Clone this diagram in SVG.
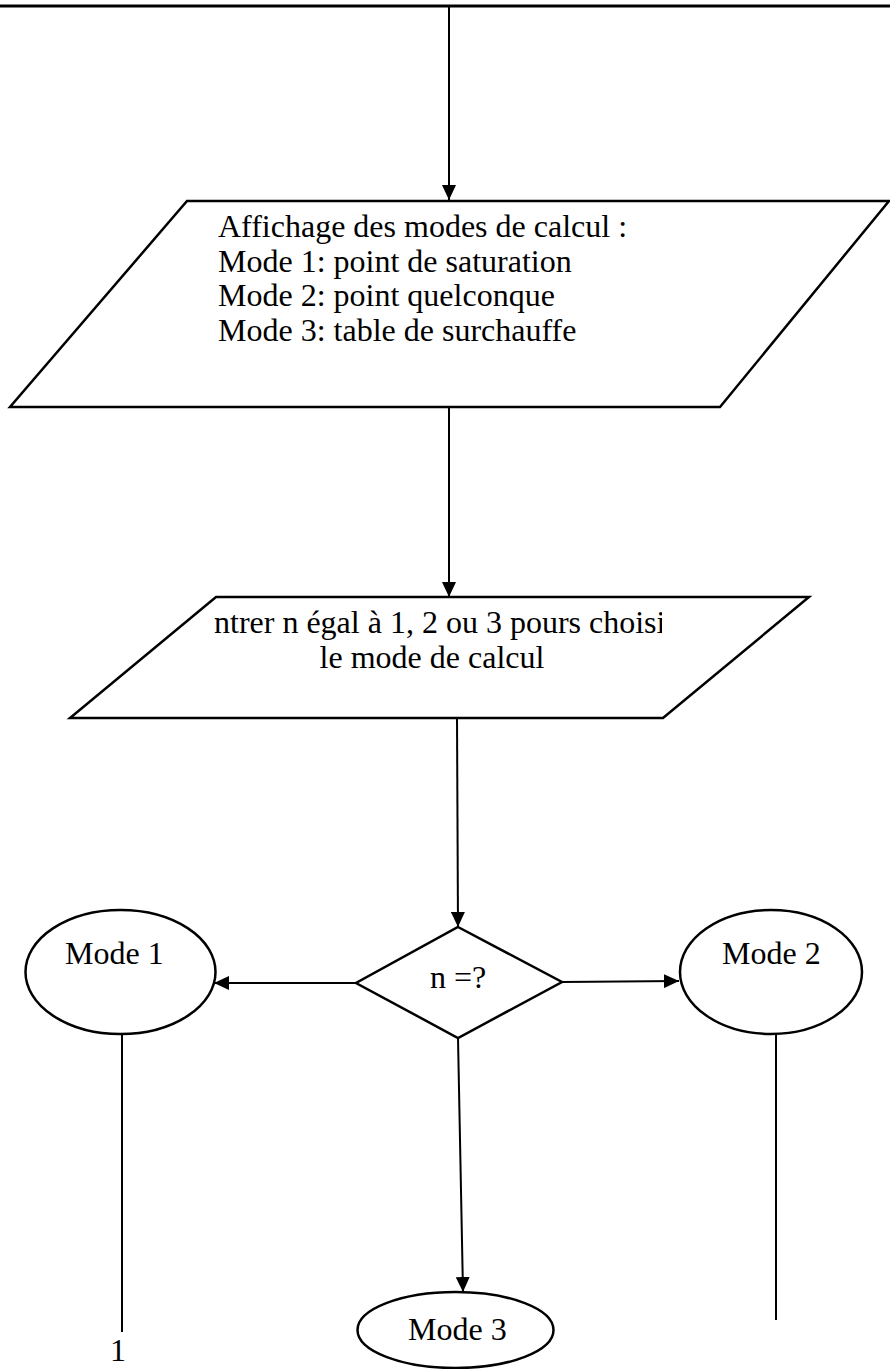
<svg xmlns="http://www.w3.org/2000/svg" width="890" height="1369" viewBox="0 0 890 1369">
  <style>
    .shape { fill: #ffffff; stroke: #000000; stroke-width: 2.5; stroke-linejoin: miter; }
    .conn { fill: none; stroke: #000000; stroke-width: 2; }
    .arrow { marker-end: url(#head); }
    .lbl { font-family: "Liberation Serif", "Times New Roman", serif; font-size: 32px; fill: #000000; }
    .mid { text-anchor: middle; }
  </style>
  <defs>
    <marker id="head" markerUnits="userSpaceOnUse" markerWidth="16" markerHeight="14" refX="15" refY="7" orient="auto">
      <path d="M0,0 L15,7 L0,14 Z" fill="#000000"/>
    </marker>
    <!-- text frame of the input box: the first line overflows it on both sides -->
    <clipPath id="clipInput">
      <rect x="213" y="600" width="449" height="110"/>
    </clipPath>
  </defs>
  <rect width="890" height="1369" fill="#ffffff"/>

  <!-- page rule at the top -->
  <line x1="0" y1="6" x2="890" y2="6" stroke="#000000" stroke-width="3"/>

  <g id="connectors">
    <line class="conn arrow" x1="449" y1="6" x2="449" y2="200"/>
    <line class="conn arrow" x1="449" y1="407" x2="449" y2="597"/>
    <line class="conn arrow" x1="457" y1="718" x2="458" y2="927"/>
    <line class="conn arrow" x1="356" y1="983" x2="214" y2="983"/>
    <line class="conn arrow" x1="562" y1="982" x2="679" y2="981"/>
    <line class="conn arrow" x1="458" y1="1038" x2="463" y2="1292"/>
    <line class="conn" x1="122" y1="1034" x2="122" y2="1332"/>
    <line class="conn" x1="776" y1="1034" x2="776" y2="1320"/>
  </g>

  <g id="display-modes">
    <polygon class="shape" points="187,201 889,201 720,407 10,407"/>
    <text class="lbl" x="218" y="237">Affichage des modes de calcul :</text>
    <text class="lbl" x="218" y="272">Mode 1: point de saturation</text>
    <text class="lbl" x="218" y="306">Mode 2: point quelconque</text>
    <text class="lbl" x="218" y="341">Mode 3: table de surchauffe</text>
  </g>

  <g id="input-n">
    <polygon class="shape" points="216,597 809,597 663,718 70,718"/>
    <g clip-path="url(#clipInput)">
      <text class="lbl" x="214" y="633">ntrer n égal à 1, 2 ou 3 pours choisir</text>
    </g>
    <text class="lbl mid" x="432" y="668">le mode de calcul</text>
  </g>

  <g id="decision">
    <polygon class="shape" points="458,927 562,982 458,1038 356,983"/>
    <text class="lbl mid" x="458" y="988">n =?</text>
  </g>

  <g id="mode1">
    <ellipse class="shape" cx="120.5" cy="972" rx="95" ry="62"/>
    <text class="lbl" x="65" y="964">Mode 1</text>
  </g>

  <g id="mode2">
    <ellipse class="shape" cx="771" cy="972" rx="91" ry="62"/>
    <text class="lbl" x="722" y="964">Mode 2</text>
  </g>

  <g id="mode3">
    <ellipse class="shape" cx="455.5" cy="1330" rx="98" ry="38"/>
    <text class="lbl" x="408" y="1340">Mode 3</text>
  </g>

  <g id="connector-1">
    <text class="lbl mid" x="118" y="1361">1</text>
  </g>
</svg>
